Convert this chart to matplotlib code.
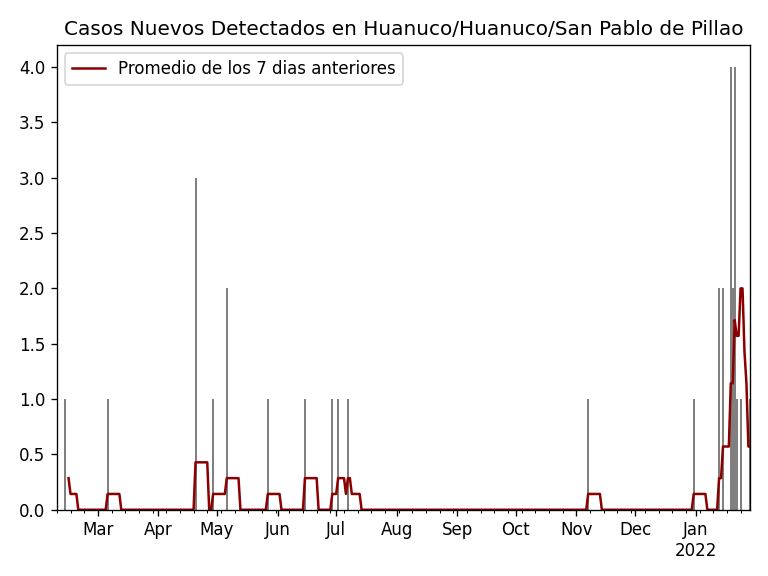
import pandas as pd
import matplotlib
matplotlib.use("Agg")
import matplotlib.pyplot as plt
import matplotlib.dates as mdates

# filas de casos (algunas fechas se repiten en los datos)
fechas = ["2021-02-08", "2021-02-12", "2021-03-06", "2021-04-20", "2021-04-29",
          "2021-05-06", "2021-05-27", "2021-06-15", "2021-06-15", "2021-06-29",
          "2021-07-02", "2021-07-07", "2021-11-07", "2021-12-31", "2022-01-13",
          "2022-01-15", "2022-01-19", "2022-01-20", "2022-01-21", "2022-01-22",
          "2022-01-24", "2022-01-24", "2022-01-24", "2022-01-29"]
casos = [1, 1, 1, 3, 1,
         2, 1, 1, 1, 1,
         1, 1, 1, 1, 2,
         2, 4, 2, 4, 1,
         1, 1, 1, 1]

inicio = "2021-02-08"
fin = "2022-01-29"

df = pd.DataFrame({"fecha": pd.to_datetime(fechas), "casos": casos})
dias = pd.date_range(inicio, fin, freq="D")
diario = df.groupby("fecha")["casos"].sum().reindex(dias, fill_value=0)
promedio = diario.rolling(7).mean()

fig, ax = plt.subplots(figsize=(6.4, 4.8), dpi=120)
ax.bar(df["fecha"], df["casos"], width=1.0, color="gray")
ax.plot(promedio.index, promedio.values, color="darkred", linewidth=1.5,
        label="Promedio de los 7 dias anteriores")

ax.set_xlim(pd.Timestamp(inicio), pd.Timestamp(fin))
ax.xaxis.set_major_locator(mdates.MonthLocator())
ax.xaxis.set_minor_locator(mdates.WeekdayLocator(byweekday=mdates.MO))

def fmt_mes(x, pos=None):
    d = mdates.num2date(x)
    if d.month == 1:
        return d.strftime("%b\n%Y")
    return d.strftime("%b")

ax.xaxis.set_major_formatter(plt.FuncFormatter(fmt_mes))
ax.set_title("Casos Nuevos Detectados en Huanuco/Huanuco/San Pablo de Pillao")
ax.legend(loc="upper left")

plt.subplots_adjust(left=0.074, right=0.977, bottom=0.115, top=0.922)
plt.savefig("out.png")
